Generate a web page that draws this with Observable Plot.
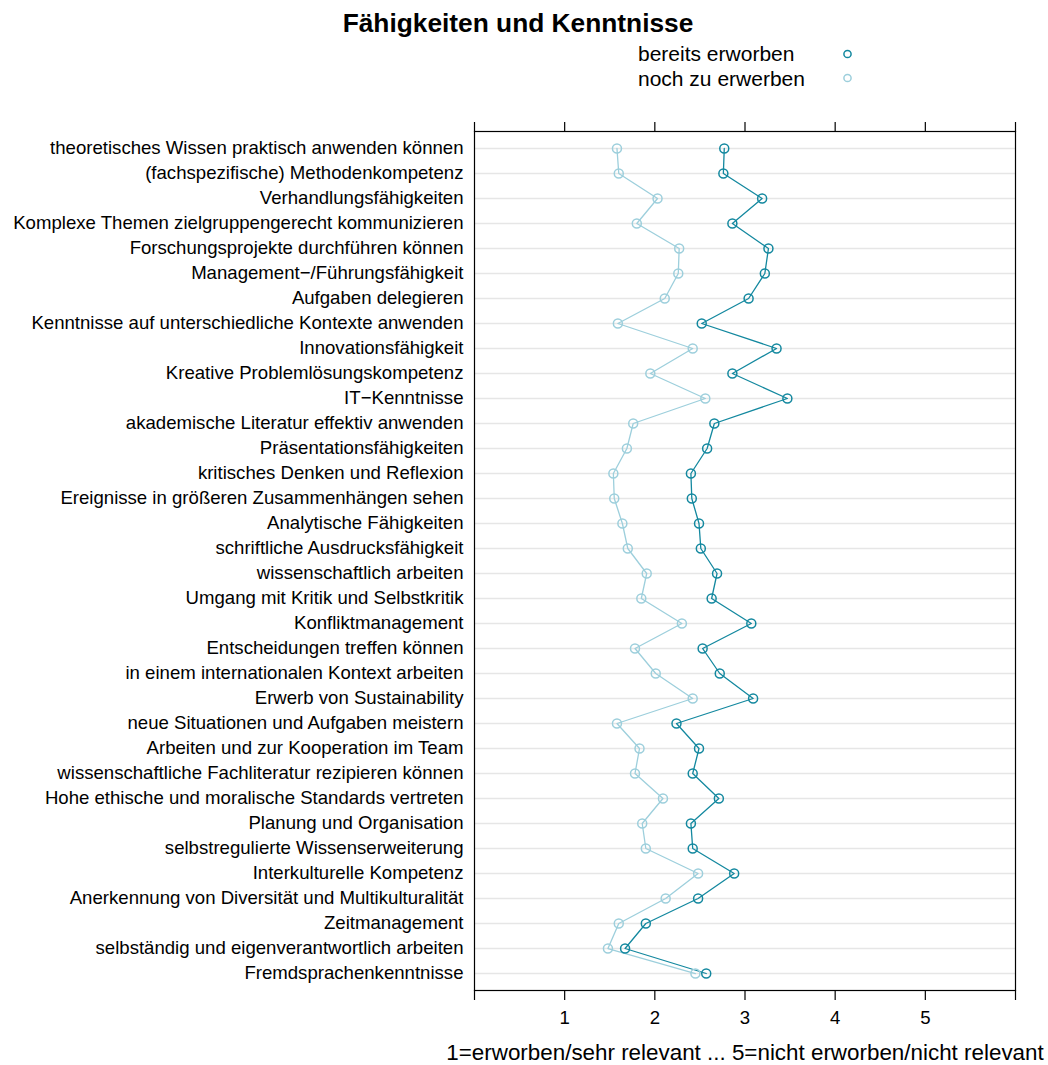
<!DOCTYPE html>
<html>
<head>
<meta charset="utf-8">
<script src="https://cdn.jsdelivr.net/npm/d3@7"></script>
<script src="https://cdn.jsdelivr.net/npm/@observablehq/plot@0.6"></script>
<style>
  html, body { margin: 0; padding: 0; background: #fff; }
  #chart svg { display: block; }
</style>
</head>
<body>
<div id="chart"></div>
<script>
const categories = [
  "theoretisches Wissen praktisch anwenden können",
  "(fachspezifische) Methodenkompetenz",
  "Verhandlungsfähigkeiten",
  "Komplexe Themen zielgruppengerecht kommunizieren",
  "Forschungsprojekte durchführen können",
  "Management−/Führungsfähigkeit",
  "Aufgaben delegieren",
  "Kenntnisse auf unterschiedliche Kontexte anwenden",
  "Innovationsfähigkeit",
  "Kreative Problemlösungskompetenz",
  "IT−Kenntnisse",
  "akademische Literatur effektiv anwenden",
  "Präsentationsfähigkeiten",
  "kritisches Denken und Reflexion",
  "Ereignisse in größeren Zusammenhängen sehen",
  "Analytische Fähigkeiten",
  "schriftliche Ausdrucksfähigkeit",
  "wissenschaftlich arbeiten",
  "Umgang mit Kritik und Selbstkritik",
  "Konfliktmanagement",
  "Entscheidungen treffen können",
  "in einem internationalen Kontext arbeiten",
  "Erwerb von Sustainability",
  "neue Situationen und Aufgaben meistern",
  "Arbeiten und zur Kooperation im Team",
  "wissenschaftliche Fachliteratur rezipieren können",
  "Hohe ethische und moralische Standards vertreten",
  "Planung und Organisation",
  "selbstregulierte Wissenserweiterung",
  "Interkulturelle Kompetenz",
  "Anerkennung von Diversität und Multikulturalität",
  "Zeitmanagement",
  "selbständig und eigenverantwortlich arbeiten",
  "Fremdsprachenkenntnisse"
];

const bereitsErworben = [2.77, 2.76, 3.19, 2.86, 3.26, 3.22, 3.04, 2.52, 3.35, 2.86, 3.47, 2.66, 2.58, 2.40, 2.41, 2.49, 2.51, 2.69, 2.63, 3.07, 2.53, 2.72, 3.09, 2.24, 2.49, 2.42, 2.71, 2.40, 2.42, 2.88, 2.48, 1.90, 1.67, 2.57];
const nochZuErwerben = [1.58, 1.60, 2.03, 1.80, 2.27, 2.26, 2.11, 1.59, 2.42, 1.95, 2.56, 1.76, 1.69, 1.54, 1.55, 1.64, 1.70, 1.91, 1.85, 2.30, 1.78, 2.01, 2.42, 1.58, 1.83, 1.78, 2.09, 1.86, 1.90, 2.48, 2.12, 1.60, 1.48, 2.45];

const seriesNames = ["bereits erworben", "noch zu erwerben"];
const seriesColors = ["#13889f", "#9dcfdc"];
const xTicks = [0, 1, 2, 3, 4, 5, 6];
const xLabel = "1=erworben/sehr relevant ... 5=nicht erworben/nicht relevant";
const title = "Fähigkeiten und Kenntnisse";

const rows = [];
// draw light series first so the dark one sits on top
categories.forEach((c, i) => rows.push({cat: c, value: nochZuErwerben[i], series: seriesNames[1]}));
categories.forEach((c, i) => rows.push({cat: c, value: bereitsErworben[i], series: seriesNames[0]}));

const font = "'Liberation Sans', Arial, Helvetica, sans-serif";

const plot = Plot.plot({
  width: 1048,
  height: 1065,
  marginLeft: 474,
  marginRight: 33,
  marginTop: 131,
  marginBottom: 75,
  style: {fontFamily: font, fontSize: "18.6px", color: "#000", background: "#fff"},
  x: {domain: [0, 6]},
  y: {domain: categories, type: "point", padding: 0.6},
  color: {domain: seriesNames, range: seriesColors},
  marks: [
    Plot.ruleY(categories, {y: d => d, stroke: "#e6e6e6", strokeWidth: 1.6}),
    Plot.line(rows, {x: "value", y: "cat", z: "series", stroke: "series", strokeWidth: 1.3}),
    Plot.dot(rows, {x: "value", y: "cat", stroke: "series", r: 4.5, strokeWidth: 1.5, fill: "none"}),
    Plot.frame({stroke: "#000", strokeWidth: 1.2, strokeOpacity: 1}),
    Plot.axisX({anchor: "bottom", ticks: xTicks, tickSize: 10, tickPadding: 10,
      tickFormat: d => (d >= 1 && d <= 5) ? String(d) : "", label: null, strokeWidth: 1.2, strokeOpacity: 1, fontSize: 18.6}),
    Plot.axisX({anchor: "top", ticks: xTicks, tickSize: 10, tickFormat: () => "", label: null, strokeWidth: 1.2, strokeOpacity: 1}),
    Plot.axisY({anchor: "left", tickSize: 0, tickPadding: 11, label: null, fontSize: 18.6})
  ]
});

document.getElementById("chart").appendChild(plot);

const svg = d3.select(plot);
svg.append("text")
  .attr("x", 518).attr("y", 32)
  .attr("text-anchor", "middle")
  .style("font-family", font).style("font-size", "26.3px").style("font-weight", "bold")
  .attr("fill", "#000")
  .text(title);

const legendBaselines = [61, 85.5];
const legendCircleY = [54, 78];
seriesNames.forEach((name, i) => {
  svg.append("text")
    .attr("x", 638).attr("y", legendBaselines[i])
    .attr("text-anchor", "start")
    .style("font-family", font).style("font-size", "21px")
    .attr("fill", "#000")
    .text(name);
  svg.append("circle")
    .attr("cx", 847.5).attr("cy", legendCircleY[i]).attr("r", 3.6)
    .attr("fill", "none").attr("stroke", seriesColors[i]).attr("stroke-width", 1.5);
});

svg.append("text")
  .attr("x", 745).attr("y", 1060)
  .attr("text-anchor", "middle")
  .style("font-family", font).style("font-size", "22.4px")
  .attr("fill", "#000")
  .text(xLabel);
</script>
</body>
</html>
